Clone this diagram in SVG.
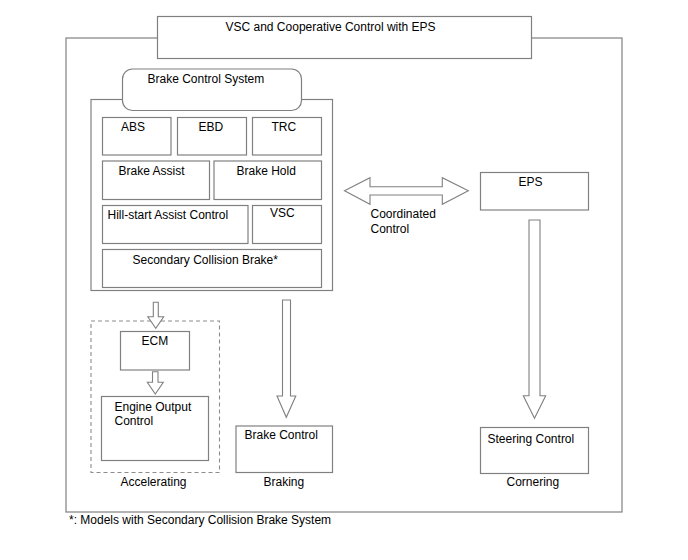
<svg xmlns="http://www.w3.org/2000/svg" width="688" height="560" viewBox="0 0 688 560">
<style>
.b{fill:#fff;stroke:#808080;stroke-width:1.2}
.a{fill:#fff;stroke:#808080;stroke-width:1.1;stroke-linejoin:miter}
.d{fill:none;stroke:#8c8c8c;stroke-width:1.1;stroke-dasharray:4,3}
text{font-family:"Liberation Sans",Arial,sans-serif;font-size:12px;fill:#000}
</style>
<rect width="688" height="560" fill="#fff"/>
<g id="outer"><rect class="b" x="66" y="38" width="556" height="474"/></g>
<g id="title"><rect class="b" x="157.5" y="16.5" width="374" height="42"/><text x="225.5" y="31">VSC and Cooperative Control with EPS</text></g>
<g id="brake-system">
<rect class="b" x="91" y="99.5" width="241.5" height="191"/>
<rect class="b" x="122.5" y="69" width="179" height="41.5" rx="10"/>
<text x="147.5" y="82.5">Brake Control System</text>
</g>
<g id="abs"><rect class="b" x="102.5" y="117.5" width="68.5" height="37.5"/><text x="121" y="130.5">ABS</text></g>
<g id="ebd"><rect class="b" x="177.5" y="117.5" width="69" height="37.5"/><text x="198.5" y="130.5">EBD</text></g>
<g id="trc"><rect class="b" x="252.5" y="117.5" width="69" height="37.5"/><text x="271.5" y="130.5">TRC</text></g>
<g id="brake-assist"><rect class="b" x="102.5" y="161" width="107" height="38.5"/><text x="118.5" y="174.5">Brake Assist</text></g>
<g id="brake-hold"><rect class="b" x="214" y="161" width="107.5" height="38.5"/><text x="236.5" y="174.5">Brake Hold</text></g>
<g id="hill-start"><rect class="b" x="102.5" y="205.5" width="145.5" height="38"/><text x="107.5" y="218.5">Hill-start Assist Control</text></g>
<g id="vsc"><rect class="b" x="252.5" y="205.5" width="69" height="38"/><text x="270" y="217">VSC</text></g>
<g id="secondary"><rect class="b" x="102.5" y="249.5" width="219" height="38"/><text x="132.5" y="263.5">Secondary Collision Brake*</text></g>
<g id="accelerating">
<rect class="d" x="91" y="321" width="128.5" height="151.5"/>
<text x="120.5" y="486">Accelerating</text>
</g>
<g id="ecm"><rect class="b" x="120.5" y="331.5" width="69" height="38.5"/><text x="141.5" y="345">ECM</text></g>
<g id="engine-output"><rect class="b" x="101.5" y="396.5" width="107" height="64"/><text x="114.5" y="410.5">Engine Output</text><text x="114.5" y="424.5">Control</text></g>
<g id="brake-control"><rect class="b" x="236" y="426" width="96.5" height="46.5"/><text x="244.5" y="439">Brake Control</text><text x="263.5" y="486">Braking</text></g>
<g id="eps"><rect class="b" x="480.5" y="172.5" width="108" height="37.5"/><text x="518.5" y="185.5">EPS</text></g>
<g id="steering-control"><rect class="b" x="480.5" y="427.5" width="108" height="46"/><text x="487.5" y="442.5">Steering Control</text><text x="506.5" y="486">Cornering</text></g>
<g id="connectors">
<polygon class="a" points="344.5,190.7 370,177.7 370,186.7 442.3,186.7 442.3,177.7 468.3,190.7 442.3,204.3 442.3,195 370,195 370,204.3"/>
<text x="370.5" y="217.5">Coordinated</text>
<text x="370.5" y="232.5">Control</text>
<polygon class="a" points="153.3,302.3 158.3,302.3 158.3,316.7 163.7,316.7 155.8,328.3 147.8,316.7 153.3,316.7"/>
<polygon class="a" points="152.5,371.7 158,371.7 158,382.3 163.3,382.3 155.3,394 147.3,382.3 152.5,382.3"/>
<polygon class="a" points="282.5,300 290.5,300 290.5,396 295.8,396 286.3,417.3 277,396 282.5,396"/>
<polygon class="a" points="529,220 540,220 540,395.7 545.7,395.7 534.5,418.3 523.3,395.7 529,395.7"/>
</g>
<text x="69" y="523.5">*: Models with Secondary Collision Brake System</text>
</svg>
